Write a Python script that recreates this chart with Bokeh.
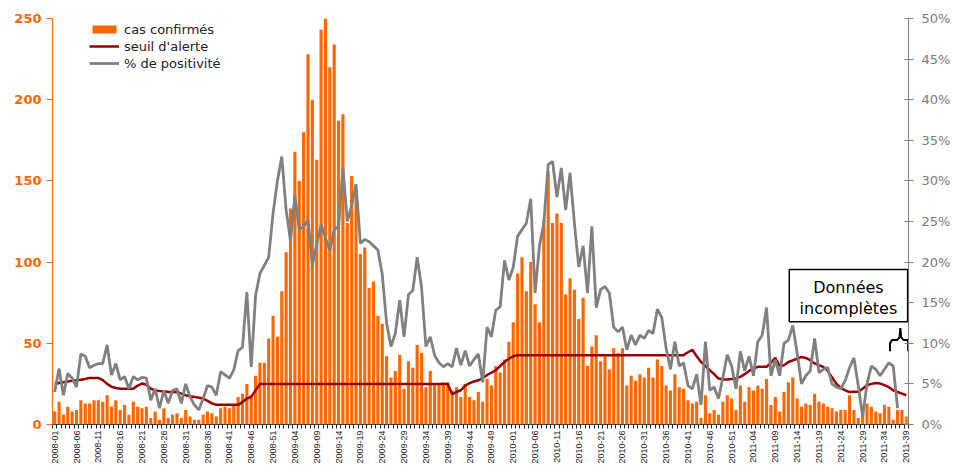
import numpy as np
from bokeh.plotting import figure
from bokeh.models import (Range1d, LinearAxis, FixedTicker, ColumnDataSource,
                          Label, BoxAnnotation, Legend, LegendItem,
                          PrintfTickFormatter)
from bokeh.embed import file_html
from bokeh.resources import INLINE

# ---------------- data (weekly, 2008-01 .. 2011-39) ----------------
cas_confirmes = [
    8, 14, 6, 11, 8, 9, 15, 13, 13, 15,
    15, 14, 18, 11, 15, 9, 12, 6, 14, 11,
    10, 11, 4, 8, 3, 10, 4, 6, 7, 4,
    9, 5, 3, 3, 6, 8, 7, 5, 10, 11,
    10, 12, 17, 19, 25, 18, 30, 38, 38, 53,
    67, 54, 82, 106, 133, 168, 150, 180, 228, 200,
    163, 243, 251, 220, 234, 187, 191, 124, 153, 144,
    105, 109, 84, 88, 67, 62, 42, 29, 33, 43,
    22, 39, 35, 49, 44, 23, 33, 25, 25, 26,
    26, 21, 23, 17, 25, 17, 15, 20, 14, 28,
    24, 36, 32, 40, 51, 63, 93, 103, 82, 100,
    74, 63, 126, 156, 124, 130, 124, 80, 90, 83,
    65, 78, 36, 48, 55, 39, 42, 34, 47, 44,
    47, 24, 30, 27, 31, 29, 35, 29, 40, 36,
    24, 21, 31, 23, 22, 15, 13, 14, 4, 18,
    7, 9, 6, 14, 18, 16, 9, 24, 14, 23,
    21, 24, 22, 28, 12, 17, 8, 20, 26, 29,
    16, 11, 13, 12, 19, 14, 13, 11, 10, 8,
    9, 9, 18, 9, 4, 11, 13, 11, 8, 7,
    12, 11, 3, 9, 9, 5,
]

seuil_alerte = [
    25, 25.5, 26, 26.5, 27, 27.3, 27.5, 28, 28.7, 28.7,
    28.7, 27.3, 25, 23.2, 22.5, 22, 22, 22, 22, 24,
    25.2, 24.5, 22, 21, 20.7, 20.5, 20, 20, 19.9, 19,
    18, 17.4, 17, 16.5, 16, 14.5, 13, 12.1, 12.1, 12.1,
    12.1, 12.1, 12.1, 13.9, 16, 17, 21, 25, 25, 25,
    25, 25, 25, 25, 25, 25, 25, 25, 25, 25,
    25, 25, 25, 25, 25, 25, 25, 25, 25, 25,
    25, 25, 25, 25, 25, 25, 25, 25, 25, 25,
    25, 25, 25, 25, 25, 25, 25, 25, 25, 25,
    25, 18.7, 20, 21.1, 24, 25.5, 26.5, 27.2, 28.5, 30.5,
    32, 33.4, 36, 38.5, 40.5, 42, 42.7, 42.7, 42.7, 42.7,
    42.7, 42.7, 42.7, 42.7, 42.7, 42.7, 42.7, 42.7, 42.7, 42.7,
    42.7, 42.7, 42.7, 42.7, 42.7, 42.7, 42.7, 42.7, 42.7, 42.7,
    42.7, 42.7, 42.7, 42.7, 42.7, 42.7, 42.7, 42.7, 42.7, 42.7,
    42.7, 42.7, 42.7, 42.7, 42.7, 44.5, 46, 42, 38.5, 36,
    33.4, 31, 28.3, 27.7, 27.7, 28, 28.5, 29.3, 31, 33,
    34.5, 35.5, 35.5, 35.5, 38, 41, 36, 36.5, 38.5, 39.5,
    40.5, 41.6, 41, 39.6, 37.6, 36.5, 35.5, 33, 29, 25,
    22.5, 21, 20, 20.1, 20.1, 22, 24.2, 25, 25.6, 25.2,
    24.2, 23, 21.1, 20, 19, 18,
]

positivite = [  # % de positivité
    4.0, 6.9, 3.6, 6.3, 5.7, 4.6, 8.7, 8.4, 7.0, 7.3,
    7.5, 7.5, 9.8, 6.1, 7.5, 5.5, 5.9, 4.4, 5.9, 5.5,
    5.8, 5.7, 3.0, 4.4, 2.0, 4.2, 2.6, 4.2, 4.4, 2.6,
    5.0, 3.4, 2.4, 1.8, 3.2, 4.8, 4.6, 3.6, 6.5, 6.1,
    5.7, 6.7, 9.1, 9.5, 16.3, 7.1, 15.9, 18.6, 19.6, 20.6,
    26.0, 30.0, 33.0, 26.4, 22.6, 28.2, 24.0, 24.4, 25.2, 19.6,
    22.2, 24.6, 23.0, 21.4, 24.0, 24.4, 31.6, 25.0, 27.0, 29.6,
    22.3, 22.8, 22.5, 22.0, 21.5, 18.5, 12.5, 9.6, 11.2, 15.3,
    10.8, 16.0, 16.5, 20.6, 16.9, 9.6, 10.8, 8.5, 7.6, 7.1,
    7.5, 7.1, 9.4, 7.3, 9.1, 7.2, 8.0, 8.7, 5.2, 12.0,
    10.8, 14.1, 14.5, 20.2, 17.8, 19.4, 23.2, 24.0, 24.8, 27.8,
    16.2, 22.0, 24.8, 32.0, 32.4, 28.0, 31.6, 26.4, 31.0, 24.8,
    19.4, 22.0, 16.2, 24.4, 14.4, 16.6, 17.0, 16.2, 12.0, 11.4,
    12.0, 9.2, 11.0, 9.8, 11.0, 10.6, 11.6, 11.2, 14.2, 13.2,
    9.4, 6.8, 10.2, 7.2, 7.6, 4.8, 4.4, 6.2, 2.4, 10.2,
    4.2, 4.6, 3.2, 5.8, 8.6, 7.2, 4.4, 9.0, 6.6, 8.4,
    6.0, 10.2, 11.0, 14.4, 6.0, 8.0, 6.0, 10.0, 10.4, 12.2,
    8.8, 5.0, 6.0, 6.6, 10.6, 6.4, 6.8, 7.0, 5.0, 4.6,
    4.4, 5.4, 7.0, 8.2, 4.8, 1.0, 5.0, 7.2, 6.8, 6.0,
    6.8, 7.6, 7.2, 2.0,
]

tick_labels = [
    "2008-01", "2008-06", "2008-11", "2008-16", "2008-21", "2008-26",
    "2008-31", "2008-36", "2008-41", "2008-46", "2008-51",
    "2009-04", "2009-09", "2009-14", "2009-19", "2009-24", "2009-29",
    "2009-34", "2009-39", "2009-44", "2009-49",
    "2010-01", "2010-06", "2010-11", "2010-16", "2010-21", "2010-26",
    "2010-31", "2010-36", "2010-41", "2010-46", "2010-51",
    "2011-04", "2011-09", "2011-14", "2011-19", "2011-24", "2011-29",
    "2011-34", "2011-39",
]
tick_step = 5

FONT = "DejaVu Sans"
XFONT = "Liberation Sans"
ORANGE = "#FF6600"
DARKRED = "#990000"
GREY = "#808080"

n = len(cas_confirmes)
weeks = list(range(n))
hatch = [" "] * (n - 1) + ["."]  # last week: incomplete data

bars_src = ColumnDataSource(dict(x=weeks, cas=cas_confirmes, hatch=hatch))
seuil_src = ColumnDataSource(dict(x=weeks, v=seuil_alerte))
pos_src = ColumnDataSource(dict(x=list(range(len(positivite))), v=positivite))

p = figure(width=963, height=466,
           x_range=Range1d(-0.5, n - 0.5), y_range=Range1d(0, 250),
           output_backend="svg", toolbar_location=None,
           min_border_left=52, min_border_right=55,
           min_border_top=18, min_border_bottom=42)
p.extra_y_ranges = {"pct": Range1d(0, 50)}
p.grid.visible = False
p.outline_line_color = None
p.background_fill_color = "white"
p.border_fill_color = "white"

# left axis (cases)
ly = p.yaxis[0]
ly.ticker = FixedTicker(ticks=[0, 50, 100, 150, 200, 250])
ly.axis_line_color = ORANGE
ly.major_tick_line_color = ORANGE
ly.major_tick_in = 0
ly.major_tick_out = 6
ly.minor_tick_line_color = None
ly.major_label_text_color = ORANGE
ly.major_label_text_font = FONT
ly.major_label_text_font_style = "bold"
ly.major_label_text_font_size = "13px"
ly.major_label_standoff = 5

# right axis (% positivity)
ry = LinearAxis(y_range_name="pct",
                ticker=FixedTicker(ticks=list(range(0, 51, 5))),
                formatter=PrintfTickFormatter(format="%d%%"))
ry.axis_line_color = GREY
ry.major_tick_line_color = GREY
ry.major_tick_in = 4
ry.major_tick_out = 5
ry.minor_tick_line_color = None
ry.major_label_text_color = "#7a7a7a"
ry.major_label_text_font = FONT
ry.major_label_text_font_size = "13px"
ry.major_label_standoff = 8
p.add_layout(ry, "right")

# x axis: small tick at every week boundary, label every 5 weeks
label_pos = [i * tick_step for i in range(len(tick_labels))]
xa = p.xaxis[0]
xa.ticker = FixedTicker(ticks=label_pos,
                        minor_ticks=[i - 0.5 for i in range(n + 1)])
xa.major_label_overrides = {pos: lab for pos, lab in zip(label_pos, tick_labels)}
xa.major_label_orientation = np.pi / 2
xa.major_label_text_font = XFONT
xa.major_label_text_font_size = "9px"
xa.major_label_text_color = "#222222"
xa.major_label_standoff = 2
xa.major_tick_in = 0
xa.major_tick_out = 0
xa.minor_tick_in = 0
xa.minor_tick_out = 4
xa.axis_line_color = "#404040"
xa.minor_tick_line_color = "#202020"

bars = p.vbar(x="x", top="cas", width=0.72, source=bars_src,
              fill_color=ORANGE, line_color=None,
              hatch_pattern="hatch", hatch_color="white",
              hatch_scale=3, hatch_weight=1)
red = p.line(x="x", y="v", source=seuil_src, line_color=DARKRED, line_width=2.5)
grey = p.line(x="x", y="v", source=pos_src, line_color=GREY, line_width=2.8,
              y_range_name="pct")

legend = Legend(items=[LegendItem(label="cas confirmés", renderers=[bars]),
                       LegendItem(label="seuil d'alerte", renderers=[red]),
                       LegendItem(label="% de positivité", renderers=[grey])],
                location=(37, 353), orientation="vertical",
                background_fill_alpha=0, border_line_color=None,
                label_text_font=FONT, label_text_font_size="13px",
                label_text_color="#222222",
                glyph_width=30, glyph_height=10, label_height=16,
                spacing=1, padding=2, margin=0, label_standoff=5)
p.add_layout(legend)

# "Données incomplètes" box
p.add_layout(BoxAnnotation(left=168.2, right=195.3, bottom=63.2, top=95.5,
                           fill_color="white", fill_alpha=1.0,
                           line_color="black", line_alpha=1.0, line_width=1.5))
for txt, yy in (("Données", 84.5), ("incomplètes", 71.5)):
    p.add_layout(Label(x=181.75, y=yy, text=txt, text_align="center",
                       text_baseline="middle", text_font=FONT,
                       text_font_size="16px", text_color="black"))

# brace over the last (incomplete) weeks
brace_x = [191.27, 191.27, 191.73, 192.87, 193.45, 193.63, 193.82, 194.37, 195.28, 195.42, 195.42]
brace_y = [45.1, 50.1, 52.0, 52.0, 53.8, 59.3, 53.8, 52.0, 52.0, 50.1, 45.1]
p.line(brace_x, brace_y, line_color="black", line_width=2)

open("out.html", "w").write(file_html(p, INLINE))
